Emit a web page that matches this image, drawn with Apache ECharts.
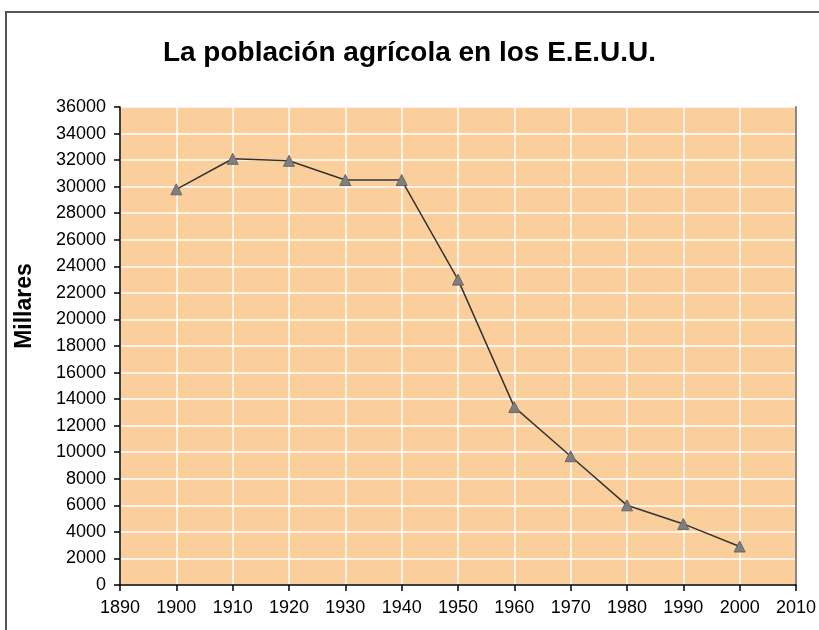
<!DOCTYPE html>
<html><head><meta charset="utf-8">
<script src="https://cdn.jsdelivr.net/npm/echarts@6/dist/echarts.min.js"></script>
<style>html,body{margin:0;padding:0;background:#fff}#c{width:819px;height:630px}</style>
</head><body><div id="c"></div>
<script>
const years = [1900,1910,1920,1930,1940,1950,1960,1970,1980,1990,2000];
const population = [29800,32100,31950,30500,30500,23000,13400,9700,6000,4600,2900];
const titleText = 'La población agrícola en los E.E.U.U.';
const yName = 'Millares';

const chart = echarts.init(document.getElementById('c'));
const font = '"Liberation Sans", Arial, sans-serif';
chart.setOption({
  animation:false,
  backgroundColor:'#fff',
  title:{text:titleText,left:'center',top:34,textStyle:{fontFamily:font,fontSize:28,fontWeight:'bold',color:'#000'}},
  graphic:[
    {type:'rect',shape:{x:6,y:12,width:830,height:640},style:{fill:'none',stroke:'#555',lineWidth:2},z:-1},
    {type:'text',x:25,y:306,rotation:Math.PI/2,style:{text:yName,fontFamily:font,fontSize:23,fontWeight:'bold',fill:'#000',align:'center',verticalAlign:'middle'}}
  ],
  grid:{left:120,right:19,top:107,bottom:45,show:true,backgroundColor:'#FBCF9C',borderWidth:0},
  xAxis:{type:'value',min:1890,max:2010,interval:10,
    axisLine:{show:true,lineStyle:{color:'#000',width:1.5}},
    axisTick:{show:true,length:6,lineStyle:{color:'#000',width:1.5}},
    axisLabel:{fontFamily:font,fontSize:18,color:'#000',margin:14,formatter:v=>String(v)},
    splitLine:{show:true,lineStyle:{color:'#fff',width:1.5}}},
  yAxis:[{type:'value',min:0,max:36000,interval:2000,
    axisLine:{show:true,lineStyle:{color:'#000',width:1.5}},
    axisTick:{show:true,length:6,lineStyle:{color:'#000',width:1.5}},
    axisLabel:{fontFamily:font,fontSize:18,color:'#000',margin:14,formatter:v=>String(v)},
    splitLine:{show:true,lineStyle:{color:'#fff',width:1.5}}},
   {type:'value',min:0,max:36000,interval:2000,position:'right',
    axisLine:{show:true,lineStyle:{color:'#888',width:2}},axisTick:{show:false},axisLabel:{show:false},splitLine:{show:false}}],
  series:[{type:'line',data:years.map((y,i)=>[y,population[i]]),
    symbol:'triangle',symbolSize:11,
    lineStyle:{color:'#333',width:1.5},
    itemStyle:{color:'#7f7f7f',borderColor:'#666',borderWidth:1}}]
});
</script></body></html>
